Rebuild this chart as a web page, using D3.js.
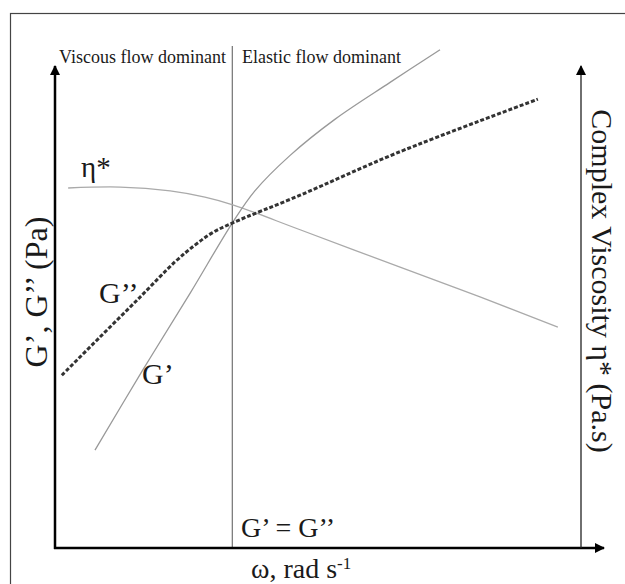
<!DOCTYPE html>
<html>
<head>
<meta charset="utf-8">
<script src="https://cdn.jsdelivr.net/npm/d3@7"></script>
<style>
  body { margin: 0; background: #fff; }
  svg text { font-family: "Liberation Serif", "DejaVu Serif", serif; fill: #1a1a1a; }
</style>
</head>
<body>
<div id="chart"></div>
<script>
// schematic values (x = omega, y = modulus / viscosity, arbitrary units)
var gPrimeX = [7.6, 16.7, 25.7, 33.7, 38.0, 44.7, 53.2, 63.7, 73.2];
var gPrimeY = [20.4, 37.1, 53.1, 67.7, 74.4, 81.8, 89.3, 97.0, 103.8];

var gDoubleX = [1.3, 8.6, 16.2, 22.8, 26.6, 29.8, 33.7, 46.6, 65.0, 91.8];
var gDoubleY = [36.0, 44.0, 52.3, 59.6, 63.1, 65.6, 67.7, 73.5, 82.3, 93.5];

var etaX = [2.5, 12.4, 21.9, 28.5, 33.8, 46.6, 65.6, 80.8, 95.6];
var etaY = [75.0, 75.2, 74.4, 73.1, 71.5, 66.3, 58.5, 52.3, 46.0];

var crossoverX = 33.7;

var svgWidth = 625, svgHeight = 584;

var svg = d3.select("#chart")
  .append("svg")
  .attr("width", svgWidth)
  .attr("height", svgHeight);

// outer frame (cut off at right / bottom like the picture)
svg.append("rect")
  .attr("x", 10.5).attr("y", 13.5)
  .attr("width", 700).attr("height", 700)
  .attr("fill", "none")
  .attr("stroke", "#444")
  .attr("stroke-width", 1.2);

var x = d3.scaleLinear().domain([0, 100]).range([55, 581]);
var y = d3.scaleLinear().domain([0, 100]).range([548, 68]);

var defs = svg.append("defs");
defs.append("marker")
  .attr("id", "arrow")
  .attr("viewBox", "0 0 10 10")
  .attr("refX", 9).attr("refY", 5)
  .attr("markerWidth", 10).attr("markerHeight", 10)
  .attr("markerUnits", "userSpaceOnUse")
  .attr("orient", "auto")
  .append("path")
  .attr("d", "M0,0 L10,5 L0,10 z")
  .attr("fill", "#000");

function zip(xs, ys) {
  return xs.map(function(d, i) { return [d, ys[i]]; });
}

var line = d3.line()
  .x(function(d) { return x(d[0]); })
  .y(function(d) { return y(d[1]); })
  .curve(d3.curveCatmullRom.alpha(0.5));

// crossover vertical line
svg.append("line")
  .attr("x1", x(crossoverX)).attr("x2", x(crossoverX))
  .attr("y1", 46).attr("y2", y(0))
  .attr("stroke", "#555")
  .attr("stroke-width", 1);

// eta*
svg.append("path")
  .datum(zip(etaX, etaY))
  .attr("d", line)
  .attr("fill", "none")
  .attr("stroke", "#aaa")
  .attr("stroke-width", 1.3);

// G'
svg.append("path")
  .datum(zip(gPrimeX, gPrimeY))
  .attr("d", line)
  .attr("fill", "none")
  .attr("stroke", "#999")
  .attr("stroke-width", 1.3);

// G''
svg.append("path")
  .datum(zip(gDoubleX, gDoubleY))
  .attr("d", line)
  .attr("fill", "none")
  .attr("stroke", "#333")
  .attr("stroke-width", 3)
  .attr("stroke-dasharray", "4,2");

// axes
svg.append("line")
  .attr("x1", x(0)).attr("y1", y(0) + 1)
  .attr("x2", x(0)).attr("y2", 66)
  .attr("stroke", "#000").attr("stroke-width", 2.5)
  .attr("marker-end", "url(#arrow)");

svg.append("line")
  .attr("x1", x(0) - 1).attr("y1", y(0))
  .attr("x2", 604).attr("y2", y(0))
  .attr("stroke", "#000").attr("stroke-width", 2.5)
  .attr("marker-end", "url(#arrow)");

svg.append("line")
  .attr("x1", x(100)).attr("y1", y(0))
  .attr("x2", x(100)).attr("y2", 66)
  .attr("stroke", "#222").attr("stroke-width", 1.3)
  .attr("marker-end", "url(#arrow)");

// region labels
svg.append("text")
  .attr("x", 59).attr("y", 63)
  .style("font-size", "18px")
  .text("Viscous flow dominant");

svg.append("text")
  .attr("x", 242).attr("y", 63)
  .style("font-size", "18px")
  .text("Elastic flow dominant");

// curve labels
svg.append("text")
  .attr("x", 81).attr("y", 177)
  .style("font-size", "29px")
  .text("η*");

svg.append("text")
  .attr("x", 99).attr("y", 303)
  .style("font-size", "30px")
  .text("G’’");

svg.append("text")
  .attr("x", 142).attr("y", 384)
  .style("font-size", "30px")
  .text("G’");

svg.append("text")
  .attr("x", 241).attr("y", 537)
  .style("font-size", "28px")
  .text("G’ = G’’");

// axis titles
svg.append("text")
  .attr("x", 251).attr("y", 578)
  .style("font-size", "28px")
  .html("ω, rad s<tspan dy='-9' style='font-size:17px'>-1</tspan>");

svg.append("text")
  .attr("transform", "translate(47,292) rotate(-90)")
  .attr("text-anchor", "middle")
  .style("font-size", "32px")
  .text("G’, G’’ (Pa)");

svg.append("text")
  .attr("transform", "translate(592,281) rotate(90)")
  .attr("text-anchor", "middle")
  .style("font-size", "30px")
  .text("Complex Viscosity η* (Pa.s)");
</script>
</body>
</html>
